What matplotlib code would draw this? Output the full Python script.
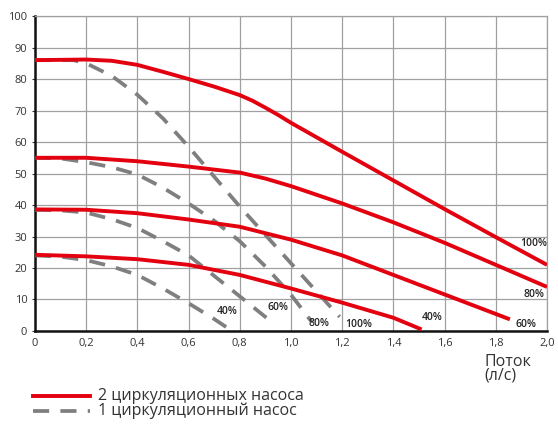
import matplotlib.pyplot as plt

plt.rcParams['font.family'] = ['Open Sans', 'DejaVu Sans']

# two pumps (solid red), flow l/s -> head
x_r100 = [0, 0.2, 0.3, 0.4, 0.5, 0.6, 0.7, 0.8, 0.85, 0.9, 0.95, 1.0, 1.1, 1.2, 1.4, 1.6, 1.8, 2.0]
y_r100 = [86, 86.2, 85.8, 84.5, 82.3, 80, 77.6, 74.9, 73.1, 70.9, 68.6, 66.1, 61.5, 56.9, 47.8, 38.7, 29.8, 21]
x_r80 = [0, 0.2, 0.4, 0.6, 0.8, 0.9, 1.0, 1.2, 1.4, 1.6, 1.8, 2.0]
y_r80 = [55, 55, 53.9, 52.2, 50.3, 48.4, 46, 40.5, 34.5, 28, 21, 14]
x_r60 = [0, 0.2, 0.4, 0.6, 0.8, 1.0, 1.2, 1.4, 1.6, 1.855]
y_r60 = [38.6, 38.5, 37.4, 35.4, 33.1, 29, 24, 17.8, 11.6, 3.7]
x_r40 = [0, 0.2, 0.4, 0.6, 0.8, 1.0, 1.2, 1.4, 1.51]
y_r40 = [24.2, 23.7, 22.8, 21, 17.8, 13.5, 9, 4.2, 0.5]

# one pump (dashed grey)
x_g100 = [0, 0.15, 0.2, 0.3, 0.4, 0.5, 0.6, 0.7, 0.8, 0.9, 1.0, 1.1, 1.19]
y_g100 = [86, 86, 85, 81, 75, 67.5, 58.5, 49, 39.5, 30.5, 21.5, 12.5, 4.5]
x_g80 = [0, 0.1, 0.2, 0.3, 0.4, 0.5, 0.6, 0.7, 0.8, 0.9, 1.0, 1.08]
y_g80 = [55, 54.8, 53.6, 52, 49.7, 45.5, 40.5, 35, 28.5, 20.5, 11.5, 3]
x_g60 = [0, 0.1, 0.2, 0.3, 0.4, 0.5, 0.6, 0.7, 0.8, 0.93]
y_g60 = [38.5, 38.3, 37.6, 35.5, 32.7, 28.5, 24, 17.5, 11, 2.5]
x_g40 = [0, 0.1, 0.2, 0.3, 0.4, 0.5, 0.6, 0.7, 0.77]
y_g40 = [24, 23.6, 22.5, 20.5, 17.8, 13.5, 8.8, 3.8, 0]

pct_labels = ['100%', '80%', '60%', '40%', '100%', '80%', '60%', '40%']
pct_x = [2.0, 1.99, 1.96, 1.59, 1.315, 1.15, 0.99, 0.79]
pct_y = [27.8, 11.6, 2.2, 4.2, 2.2, 2.4, 7.5, 6.1]

xticks = [0, 0.2, 0.4, 0.6, 0.8, 1.0, 1.2, 1.4, 1.6, 1.8, 2.0]
xtick_labels = ['0', '0,2', '0,4', '0,6', '0,8', '1,0', '1,2', '1,4', '1,6', '1,8', '2,0']
yticks = [0, 10, 20, 30, 40, 50, 60, 70, 80, 90, 100]

red = '#e3000f'
grey = '#7f7f7f'

fig = plt.figure(figsize=(5.58, 4.25), dpi=100)

ax = fig.add_axes([0.0627, 0.2212, 0.9176, 0.741])

for xs, ys in [(x_g100, y_g100), (x_g80, y_g80), (x_g60, y_g60), (x_g40, y_g40)]:
    ax.plot(xs, ys, color=grey, lw=2.7, dashes=(4.3, 3.0), zorder=3)
for xs, ys in [(x_r100, y_r100), (x_r80, y_r80), (x_r60, y_r60), (x_r40, y_r40)]:
    ax.plot(xs, ys, color=red, lw=2.8, solid_capstyle='butt', zorder=4)

for t, px, py in zip(pct_labels, pct_x, pct_y):
    ax.text(px, py, t, ha='right', va='center', fontsize=7.5, color='#222222',
            fontweight='semibold', zorder=5)

ax.set_xlim(0, 2.0)
ax.set_ylim(0, 100)
ax.set_xticks(xticks)
ax.set_xticklabels(xtick_labels)
ax.set_yticks(yticks)
ax.grid(True, color='#a0a0a0', lw=0.9)
ax.set_axisbelow(True)
ax.tick_params(axis='both', labelsize=8, colors='#333333', length=2, width=0.8)
ax.tick_params(axis='x', length=0, pad=5)

for s in ['top', 'right']:
    ax.spines[s].set_color('#a0a0a0')
    ax.spines[s].set_linewidth(0.9)
for s in ['left', 'bottom']:
    ax.spines[s].set_color('#111111')
    ax.spines[s].set_linewidth(1.8)

fig.text(484 / 558, 1 - 380 / 425, 'Поток\n(л/с)', fontsize=11.5,
         color='#333333', linespacing=0.85)

# legend drawn by hand below the chart
fig.lines.append(plt.Line2D([33 / 558, 90 / 558], [1 - 396 / 425] * 2,
                            color=red, lw=2.8, transform=fig.transFigure))
fig.lines.append(plt.Line2D([33 / 558, 90 / 558], [1 - 411 / 425] * 2,
                            color=grey, lw=2.7, dashes=(4.3, 3.0),
                            transform=fig.transFigure))
fig.text(98 / 558, 1 - 396 / 425, '2 циркуляционных насоса', fontsize=11.5,
         color='#333333', va='center')
fig.text(98 / 558, 1 - 411 / 425, '1 циркуляционный насос', fontsize=11.5,
         color='#333333', va='center')

fig.savefig('out.png', dpi=100)
